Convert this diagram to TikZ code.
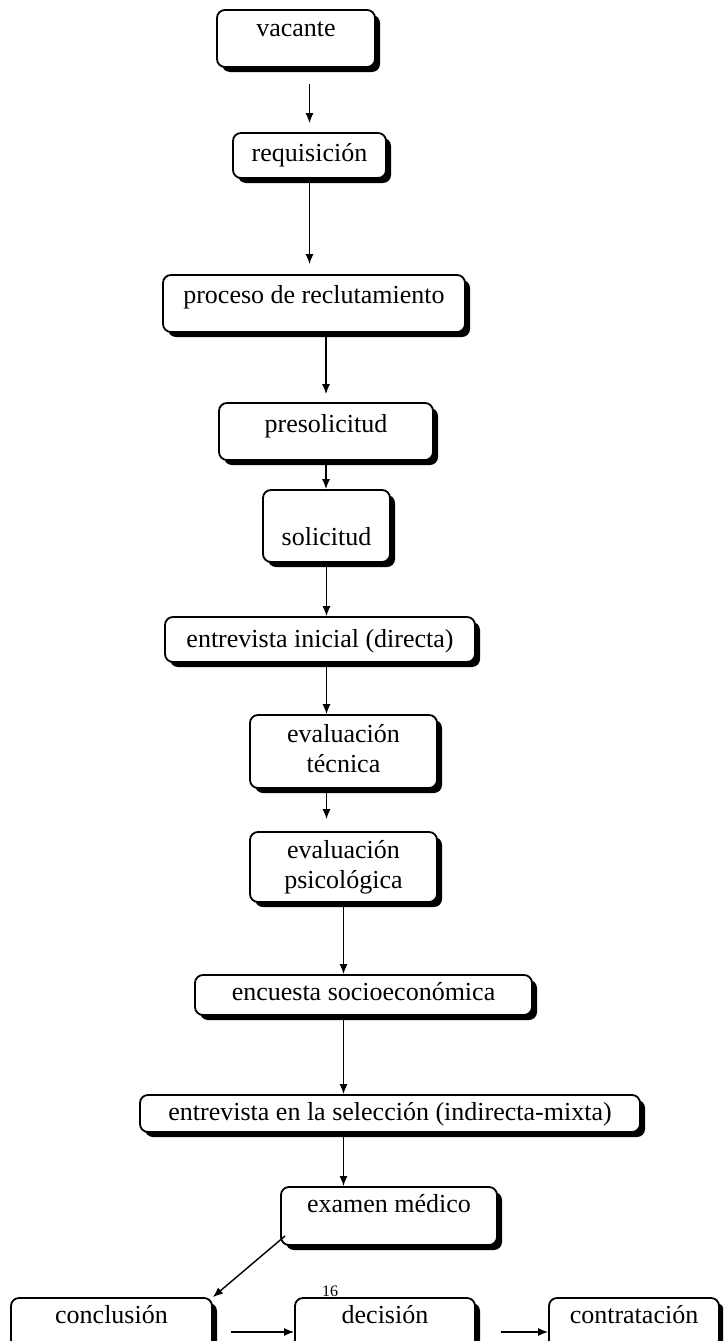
\documentclass[tikz,border=0pt]{standalone}
\usepackage{fontspec}
\setmainfont{Liberation Serif}
\usetikzlibrary{shadows,arrows.meta,calc}
\begin{document}
\begin{tikzpicture}[x=1pt,y=-1pt,
  box/.style={draw, fill=white, line width=1.8pt, rounded corners=8pt, inner sep=0pt,
    font=\fontsize{26}{30}\selectfont,
    drop shadow={shadow xshift=5pt, shadow yshift=-5pt, fill=black, opacity=1}},
  arr/.style={line width=1.4pt, -{Latex[length=10pt,width=8pt]}},
  ]
\useasboundingbox (0,0) rectangle (723,1341);
\fill[white] (0,0) rectangle (723,1341);
\clip (0,0) rectangle (723,1341);

\node[box, minimum width=158pt, text height=26pt, text depth=31pt] (vacante) at (296,38.5) {vacante};
\node[box, minimum width=153pt, text height=28pt, text depth=17pt] (requisicion) at (309.5,155.5) {requisición};
\node[box, minimum width=302pt, text height=28pt, text depth=29pt] (proceso) at (314,303.5) {proceso de reclutamiento};
\node[box, minimum width=214pt, text height=29pt, text depth=28pt] (presolicitud) at (326,431.5) {presolicitud};
\node[box, minimum width=127pt, text height=55pt, text depth=17pt] (solicitud) at (326.5,526) {solicitud};
\node[box, minimum width=310pt, text height=30pt, text depth=15pt] (entrevista) at (320,639.5) {entrevista inicial (directa)};
\node[box, minimum width=187pt, text height=27pt, text depth=46pt] (tecnica) at (343.5,751.5) {\begin{tabular}[t]{@{}c@{}}evaluación\\técnica\end{tabular}};
\node[box, minimum width=187pt, text height=26pt, text depth=44pt] (psico) at (343.5,867) {\begin{tabular}[t]{@{}c@{}}evaluación\\psicológica\end{tabular}};
\node[box, minimum width=337pt, text height=25pt, text depth=15pt] (encuesta) at (363.5,995) {encuesta socioeconómica};
\node[box, minimum width=500pt, text height=25pt, text depth=12pt] (seleccion) at (390,1113.5) {entrevista en la selección (indirecta-mixta)};
\node[box, minimum width=216pt, text height=25pt, text depth=33pt] (examen) at (389,1216) {examen médico};
\node[box, minimum width=201pt, text height=25pt, text depth=57pt] (conclusion) at (111.5,1339) {conclusión};
\node[box, minimum width=180pt, text height=25pt, text depth=57pt] (decision) at (385,1339) {decisión};
\node[box, minimum width=170pt, text height=25pt, text depth=57pt] (contratacion) at (634,1339) {contratación};
\node[font=\fontsize{16}{18}\selectfont, inner sep=0pt] (pagenum) at (330,1291) {16};

\draw[arr, shorten <=16pt, shorten >=9pt] (vacante.south -| requisicion.north) -- (requisicion.north);
\draw[arr, shorten >=10pt] (requisicion.south) -- (requisicion.south |- proceso.north);
\draw[arr, shorten >=8pt] (proceso.south -| presolicitud.north) -- (presolicitud.north);
\draw[arr] (presolicitud.south) -- (presolicitud.south |- solicitud.north);
\draw[arr] (solicitud.south) -- (solicitud.south |- entrevista.north);
\draw[arr] (solicitud.south |- entrevista.south) -- (solicitud.south |- tecnica.north);
\draw[arr, shorten >=12pt] (solicitud.south |- tecnica.south) -- (solicitud.south |- psico.north);
\draw[arr] (psico.south) -- (psico.south |- encuesta.north);
\draw[arr] (psico.south |- encuesta.south) -- (psico.south |- seleccion.north);
\draw[arr] (psico.south |- seleccion.south) -- (psico.south |- examen.north);
\draw[arr] ([xshift=5pt,yshift=10pt]examen.south west) -- (conclusion.north east);
\coordinate (row) at (0,1332);
\draw[arr, shorten <=18pt] (conclusion.east |- row) -- (decision.west |- row);
\draw[arr, shorten <=25pt] (decision.east |- row) -- (contratacion.west |- row);
\end{tikzpicture}
\end{document}
